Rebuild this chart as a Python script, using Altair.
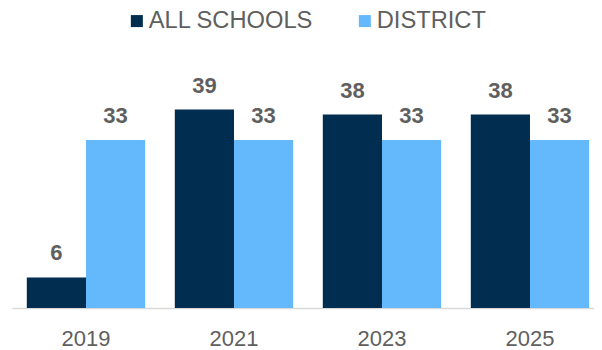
import altair as alt
import pandas as pd

years = ["2019", "2021", "2023", "2025"]
all_schools = [6, 39, 38, 38]
district = [33, 33, 33, 33]
series = ["ALL SCHOOLS", "DISTRICT"]
colors = ["#012D50", "#63B9FC"]

rows = []
for i, y in enumerate(years):
    rows.append({"year": y, "series": series[0], "value": all_schools[i]})
    rows.append({"year": y, "series": series[1], "value": district[i]})
df = pd.DataFrame(rows)

FONT = "Liberation Sans"
GRAY = "#5F5F5F"

base = alt.Chart(df).encode(
    x=alt.X(
        "year:N",
        sort=years,
        scale=alt.Scale(paddingInner=0.2, paddingOuter=0.1, range=[0, 592]),
        axis=alt.Axis(
            title=None, labelAngle=0, ticks=False, domainColor="#D9D9D9",
            domainWidth=1.5, labelFontSize=22, labelColor=GRAY, labelFont=FONT,
            labelPadding=20,
        ),
    ),
    xOffset=alt.XOffset("series:N", sort=series,
                        scale=alt.Scale(paddingInner=0, paddingOuter=0)),
)

bars = base.mark_bar().encode(
    y=alt.Y("value:Q", scale=alt.Scale(domain=[0, 45]), axis=None),
    color=alt.Color(
        "series:N", sort=series,
        scale=alt.Scale(domain=series, range=colors),
        legend=alt.Legend(
            title=None, orient="none", direction="horizontal",
            legendX=113, legendY=-70, symbolType="square", symbolSize=144,
            symbolStrokeWidth=0, labelFontSize=23.7, labelFont=FONT,
            labelColor=GRAY, labelOffset=0, columnPadding=39, padding=0,
            labelLimit=400,
        ),
    ),
)

text = base.mark_text(
    dy=-17, baseline="alphabetic", fontSize=22, fontWeight="bold",
    color=GRAY, font=FONT,
).encode(y=alt.Y("value:Q"), text=alt.Text("value:Q"))

chart = (
    alt.layer(bars, text)
    .properties(
        width=582, height=229,
        autosize=alt.AutoSizeParams(type="none"),
        padding={"left": 4, "top": 71, "right": 0, "bottom": 42},
    )
    .configure_view(stroke=None)
)

chart.save("out.html", embed_options={"renderer": "svg", "actions": False})
